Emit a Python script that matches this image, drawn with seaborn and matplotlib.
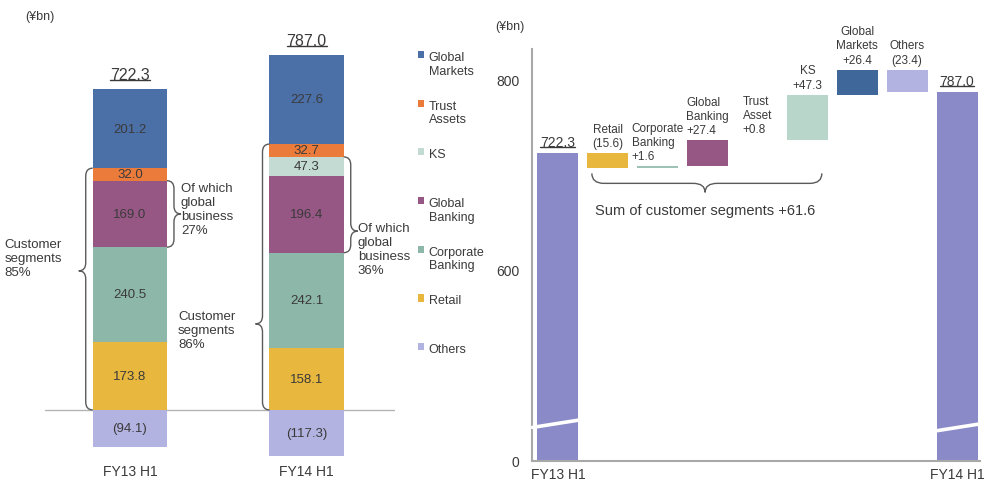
import numpy as np
import matplotlib
matplotlib.use("Agg")
import matplotlib.pyplot as plt
import matplotlib.transforms as mtransforms
from matplotlib.patches import Patch, PathPatch
from matplotlib.path import Path
from matplotlib.lines import Line2D
import seaborn as sns

# ---------------------------------------------------------------- data
periods = ["FY13 H1", "FY14 H1"]

# segments listed from the bottom of the stack upwards
segments = ["Retail", "Corporate Banking", "Global Banking", "KS",
            "Trust Assets", "Global Markets"]
retail = [173.8, 158.1]
corporate_banking = [240.5, 242.1]
global_banking = [169.0, 196.4]
ks = [0.0, 47.3]
trust_assets = [32.0, 32.7]
global_markets = [201.2, 227.6]
others = [-94.1, -117.3]
totals = [722.3, 787.0]

customer_share = ["85%", "86%"]
global_share = ["27%", "36%"]

steps = ["FY13 H1", "Retail", "Corporate Banking", "Global Banking",
         "Trust Asset", "KS", "Global Markets", "Others", "FY14 H1"]
step_changes = [-15.6, 1.6, 27.4, 0.8, 47.3, 26.4, -23.4]
step_labels = ["Retail\n(15.6)", "Corporate\nBanking\n+1.6",
               "Global\nBanking\n+27.4", "Trust\nAsset\n+0.8",
               "KS\n+47.3", "Global\nMarkets\n+26.4", "Others\n(23.4)"]
sum_label = "Sum of customer segments +61.6"
unit_label = "(\u00a5bn)"

# ---------------------------------------------------------------- style
colors = {
    "Global Markets": "#4b70a8",
    "Trust Assets": "#ea7b3b",
    "KS": "#c3dbd2",
    "Global Banking": "#975785",
    "Corporate Banking": "#8db7a8",
    "Retail": "#e8b73e",
    "Others": "#b3b3e1",
}
step_colors = ["#8a8ac8", colors["Retail"], "#9fc2b6", colors["Global Banking"],
               "#f3a6a0", "#b9d6cb", "#40679a", colors["Others"], "#8a8ac8"]
TEXT = "#3a3a3a"
BRACE = "#5a5a5a"

sns.set_theme(style="white")
plt.rcParams["font.family"] = ["Liberation Sans", "DejaVu Sans"]
plt.rcParams["text.color"] = TEXT
plt.rcParams["xtick.color"] = TEXT
plt.rcParams["ytick.color"] = TEXT

fig = plt.figure(figsize=(9.94, 4.81), dpi=100)
ax = fig.add_axes([45 / 994, 19 / 481, 350 / 994, 416.5 / 481])
ax2 = fig.add_axes([532 / 994, 19 / 481, 448 / 994, 412 / 481])


def data_per_px(a, x, y):
    disp = a.transData.transform((x, y))
    inv = a.transData.inverted()
    p0 = inv.transform(disp)
    p1 = inv.transform(disp + 1.0)
    return p1[0] - p0[0], p1[1] - p0[1]


def vbrace(a, x, top, bottom, tip, side, depth=7, curl=8):
    kx, ky = data_per_px(a, x, (top + bottom) / 2)
    dx = depth * kx * side
    ry = curl * ky
    verts = [(x - dx, top), (x, top), (x, top - ry), (x, tip + ry),
             (x, tip), (x + dx, tip), (x, tip), (x, tip - ry),
             (x, bottom + ry), (x, bottom), (x - dx, bottom)]
    codes = [Path.MOVETO, Path.CURVE3, Path.CURVE3, Path.LINETO,
             Path.CURVE3, Path.CURVE3, Path.CURVE3, Path.CURVE3,
             Path.LINETO, Path.CURVE3, Path.CURVE3]
    a.add_patch(PathPatch(Path(verts, codes), fill=False, edgecolor=BRACE,
                          lw=1.0, clip_on=False, zorder=4))


def hbrace(a, left, right, tip_x, y_end, depth=9, curl=10, reach=12):
    kx, ky = data_per_px(a, tip_x, y_end)
    yb = y_end - curl * ky
    yt = yb - depth * ky
    rx = reach * kx
    verts = [(left, y_end), (left, yb), (left + rx, yb), (tip_x - rx, yb),
             (tip_x, yb), (tip_x, yt), (tip_x, yb), (tip_x + rx, yb),
             (right - rx, yb), (right, yb), (right, y_end)]
    codes = [Path.MOVETO, Path.CURVE3, Path.CURVE3, Path.LINETO,
             Path.CURVE3, Path.CURVE3, Path.CURVE3, Path.CURVE3,
             Path.LINETO, Path.CURVE3, Path.CURVE3]
    a.add_patch(PathPatch(Path(verts, codes), fill=False, edgecolor=BRACE,
                          lw=1.0, clip_on=False, zorder=4))


# ---------------------------------------------------------------- left: stacked composition
stack = np.array([retail, corporate_banking, global_banking, ks,
                  trust_assets, global_markets])
tops = np.cumsum(stack, axis=0)
bottoms = tops - stack
BAR_W = 0.42

# layer cumulative bars from the tallest down so each segment shows its own slice
for k in reversed(range(len(segments))):
    sns.barplot(x=periods, y=tops[k], color=colors[segments[k]], width=BAR_W,
                saturation=1, errorbar=None, linewidth=0, ax=ax, zorder=2)
sns.barplot(x=periods, y=others, color=colors["Others"], width=BAR_W,
            saturation=1, errorbar=None, linewidth=0, ax=ax, zorder=2)

ax.set_xlim(-0.48, 1.50)
ax.set_ylim(-130, 930)
ax.axhline(0, color="#b4b4b4", lw=1.0, zorder=1)
for s in ax.spines.values():
    s.set_visible(False)
ax.set_yticks([])
ax.set_xlabel("")
ax.set_ylabel("")
ax.tick_params(axis="x", length=0, pad=2, labelsize=10)

for k in range(len(segments)):
    for i in range(len(periods)):
        v = stack[k, i]
        if v > 0:
            ax.text(i, bottoms[k, i] + v / 2, f"{v:.1f}", ha="center",
                    va="center", fontsize=9.5, color=TEXT, zorder=5)
for i, v in enumerate(others):
    ax.text(i, v / 2, f"({abs(v):.1f})", ha="center", va="center",
            fontsize=9.5, color=TEXT, zorder=5)

total_texts = []
for i, t in enumerate(totals):
    total_texts.append(ax.annotate(f"{t:.1f}", xy=(i, tops[-1, i]),
                                   xytext=(0, 5), textcoords="offset points",
                                   ha="center", va="bottom", fontsize=11.5))

# braces: customer segments (left) and global business (right) for each period
kx_left, _ = data_per_px(ax, 0, 0)
gap = 7 * kx_left
vbrace(ax, 0 - BAR_W / 2 - gap, tops[4, 0], 0, 354, side=-1)
vbrace(ax, 0 + BAR_W / 2 + gap, tops[2, 0], tops[1, 0],
       (tops[2, 0] + tops[1, 0]) / 2, side=1)
vbrace(ax, 1 - BAR_W / 2 - gap, tops[4, 1], 0, 219, side=-1)
vbrace(ax, 1 + BAR_W / 2 + gap, tops[3, 1], tops[1, 1], 455, side=1)

ax.text(-0.708, 387, f"Customer\nsegments\n{customer_share[0]}", ha="left",
        va="center", fontsize=9.5)
ax.text(0.289, 511, f"Of which\nglobal\nbusiness\n{global_share[0]}",
        ha="left", va="center", fontsize=9.5)
ax.text(0.272, 204, f"Customer\nsegments\n{customer_share[1]}", ha="left",
        va="center", fontsize=9.5)
ax.text(1.29, 410, f"Of which\nglobal\nbusiness\n{global_share[1]}",
        ha="left", va="center", fontsize=9.5)

fig.text(25 / 994, 1 - 17 / 481, unit_label, ha="left", va="center",
         fontsize=9)

# legend, top entry first
legend_order = ["Global Markets", "Trust Assets", "KS", "Global Banking",
                "Corporate Banking", "Retail", "Others"]
legend_text = {"Global Markets": "Global\nMarkets",
               "Trust Assets": "Trust\nAssets",
               "KS": "KS\n",
               "Global Banking": "Global\nBanking",
               "Corporate Banking": "Corporate\nBanking",
               "Retail": "Retail\n",
               "Others": "Others\n"}
handles = [Patch(facecolor=colors[n], edgecolor="none") for n in legend_order]
leg = fig.legend(handles, [legend_text[n] for n in legend_order],
                 loc="upper left", bbox_to_anchor=(418 / 994, 1 - 52 / 481),
                 frameon=False, fontsize=9, handlelength=0.5,
                 handleheight=0.5, handletextpad=0.35, labelspacing=1.83,
                 borderpad=0, borderaxespad=0)
for col in leg._legend_handle_box.get_children():
    for row in col.get_children():
        row.align = "top"

# ---------------------------------------------------------------- right: waterfall
BREAK = 440.0
FLOOR = 398.0


def y_forward(v):
    v = np.asarray(v, dtype=float)
    return np.where(v >= BREAK, v, FLOOR + v * (BREAK - FLOOR) / BREAK)


def y_inverse(d):
    d = np.asarray(d, dtype=float)
    return np.where(d >= BREAK, d, (d - FLOOR) * BREAK / (BREAK - FLOOR))


ax2.set_yscale("function", functions=(y_forward, y_inverse))
levels = np.concatenate([[totals[0]], totals[0] + np.cumsum(step_changes)])
pos = np.arange(len(steps))
W2 = 0.82

ax2.bar([pos[0], pos[-1]], totals, width=W2,
        color=[step_colors[0], step_colors[-1]], linewidth=0, zorder=2)
for j, ch in enumerate(step_changes):
    lo = min(levels[j], levels[j + 1])
    ax2.bar(pos[j + 1], abs(ch), bottom=lo, width=W2,
            color=step_colors[j + 1], linewidth=0, zorder=2)

ax2.set_xlim(-0.52, 8.46)
ax2.set_ylim(0, 832)
ax2.set_yticks([0, 600, 800])
ax2.set_yticklabels(["0", "600", "800"])
ax2.set_xticks([pos[0], pos[-1]])
ax2.set_xticklabels([periods[0], periods[1]])
ax2.tick_params(axis="y", length=0, pad=9, labelsize=10)
ax2.tick_params(axis="x", length=0, pad=4, labelsize=10)
sns.despine(ax=ax2)
for side in ("left", "bottom"):
    ax2.spines[side].set_color("#a8a8a8")
    ax2.spines[side].set_linewidth(1.5)

step_align = ["center", "left", "left", "left", "center", "center", "center"]
for j, lab in enumerate(step_labels):
    hi = max(levels[j], levels[j + 1])
    ax2.annotate(lab, xy=(pos[j + 1], hi), xytext=(0, 3),
                 textcoords="offset points", ha="center", va="bottom",
                 multialignment=step_align[j], fontsize=8.5, linespacing=1.25)

wf_texts = []
for x, t in zip([pos[0], pos[-1]], totals):
    wf_texts.append(ax2.annotate(f"{t:.1f}", xy=(x, t), xytext=(0, 3),
                                 textcoords="offset points", ha="center",
                                 va="bottom", fontsize=10))

hbrace(ax2, 0.68, 5.29, 2.95, 701)
ax2.text(2.95, 662, sum_label, ha="center", va="center", fontsize=10.5)

# axis-break marks across the two total bars
blend = mtransforms.blended_transform_factory(ax2.transData, ax2.transAxes)
for x, yf in ((pos[0], 0.091), (pos[-1], 0.081)):
    ax2.add_line(Line2D([x - W2 / 2 - 0.1, x + W2 / 2 + 0.02],
                        [yf - 0.0095, yf + 0.0085], transform=blend,
                        color="white", lw=2.6, zorder=3, clip_on=False))

fig.text(495 / 994, 1 - 27 / 481, unit_label, ha="left", va="center",
         fontsize=9)

# underline the period totals
fig.canvas.draw()
renderer = fig.canvas.get_renderer()
for t in total_texts + wf_texts:
    bb = t.get_window_extent(renderer)
    fig.add_artist(Line2D([bb.x0, bb.x1], [bb.y0 + 2, bb.y0 + 2],
                          transform=mtransforms.IdentityTransform(),
                          color=TEXT, lw=1.0))

fig.savefig("out.png", dpi=100)
